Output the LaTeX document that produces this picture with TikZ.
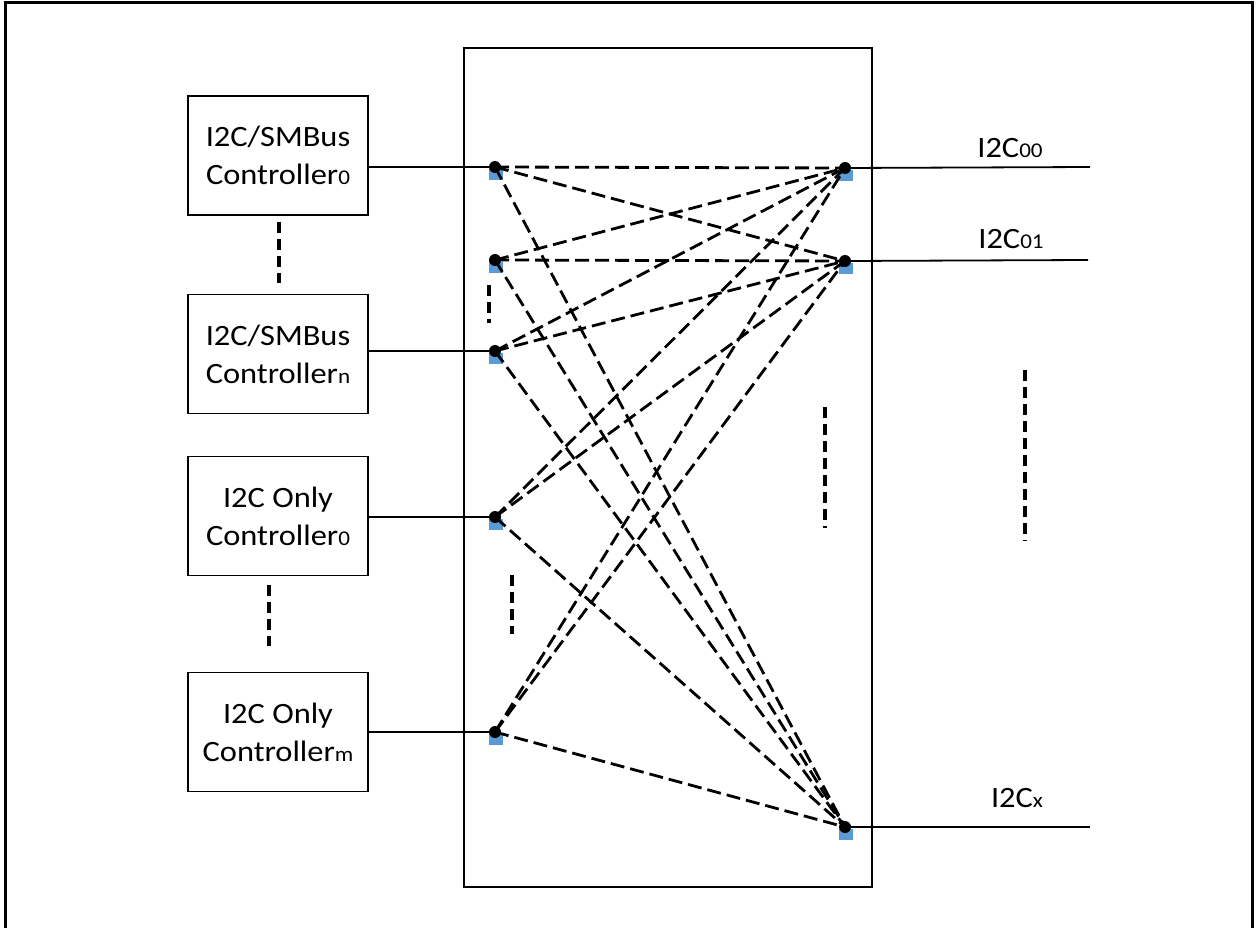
\documentclass[tikz,border=0pt]{standalone}
\usepackage{fontspec}
\usetikzlibrary{calc}
\setmainfont[FakeStretch=1.1]{Carlito}
\definecolor{padblue}{HTML}{5B9BD5}
\newcommand{\smallsub}[1]{{\fontsize{21}{21}\selectfont #1}}
\begin{document}
\begin{tikzpicture}[x=1pt,y=-1pt,
  box/.style={draw, line width=1.8pt, minimum width=180pt, minimum height=119pt, inner sep=0pt, align=center, font=\fontsize{29.5}{38}\selectfont},
  wire/.style={line width=1.8pt},
  link/.style={line width=2.8pt, dash pattern=on 14pt off 6pt},
  sepline/.style={line width=3.2pt, dash pattern=on 11pt off 6pt},
  lbl/.style={font=\fontsize{29.5}{30}\selectfont, inner sep=0pt, anchor=base}]
\useasboundingbox (0,0) rectangle (1256,928);
% outer frame
\draw[line width=3pt] (5.5,928) -- (5.5,3) -- (1252.5,3) -- (1252.5,928);
% switch body
\node[draw, line width=1.8pt, minimum width=408pt, minimum height=839pt, inner sep=0pt] (sw) at (668,467.5) {};
% controllers
\node[box] (b1) at (278,155.5) {I2C/SMBus\\Controller\smallsub{0}};
\node[box] (b2) at (278,354) {I2C/SMBus\\Controller\smallsub{n}};
\node[box] (b3) at (278,516) {I2C Only\\Controller\smallsub{0}};
\node[box] (b4) at (278,732) {I2C Only\\Controller\smallsub{m}};
% switch ports
\coordinate (l1) at (495,167);
\coordinate (l2) at (495,260);
\coordinate (l3) at (495,351);
\coordinate (l4) at (495,517);
\coordinate (l5) at (495,732);
\coordinate (r1) at (845,168);
\coordinate (r2) at (845,261);
\coordinate (r3) at (845,827);
\coordinate (o1) at (1090,167);
\coordinate (o2) at (1088,260);
\coordinate (o3) at (1090,827);
% pads
\foreach \p in {l1,l2,l3,l4,l5,r1,r2,r3}
  \fill[padblue] ($(\p)+(-6.5,2)$) rectangle ($(\p)+(7.5,13)$);
% wires
\draw[wire] (b1.east |- l1) -- (l1);
\draw[wire] (b2.east |- l3) -- (l3);
\draw[wire] (b3.east |- l4) -- (l4);
\draw[wire] (b4.east |- l5) -- (l5);
\draw[wire] (r1) -- (o1);
\draw[wire] (r2) -- (o2);
\draw[wire] (r3) -- (o3);
% crossbar links
\foreach \a in {l1,l2,l3,l4,l5}
  \foreach \b in {r1,r2,r3}
    \draw[link] (\a) -- (\b);
% dots
\foreach \p in {l1,l2,l3,l4,l5,r1,r2,r3}
  \fill (\p) circle (6);
% labels
\node[lbl] (t1) at (1010,158) {I2C\smallsub{00}};
\node[lbl] (t2) at (1011,249) {I2C\smallsub{01}};
\node[lbl] (t3) at (1017,807) {I2C\smallsub{x}};
% ellipsis separators
\coordinate (s1a) at (279,222); \coordinate (s1b) at (279,283);
\coordinate (s2a) at (269,585); \coordinate (s2b) at (269,646);
\coordinate (s3a) at (489,285); \coordinate (s3b) at (489,323);
\coordinate (s4a) at (512,575); \coordinate (s4b) at (512,634);
\coordinate (s5a) at (825,407); \coordinate (s5b) at (825,528);
\coordinate (s6a) at (1025,370); \coordinate (s6b) at (1025,541);
\draw[sepline] (s1a) -- (s1b);
\draw[sepline] (s2a) -- (s2b);
\draw[sepline] (s3a) -- (s3b);
\draw[sepline] (s4a) -- (s4b);
\draw[sepline] (s5a) -- (s5b);
\draw[sepline] (s6a) -- (s6b);
\end{tikzpicture}
\end{document}
